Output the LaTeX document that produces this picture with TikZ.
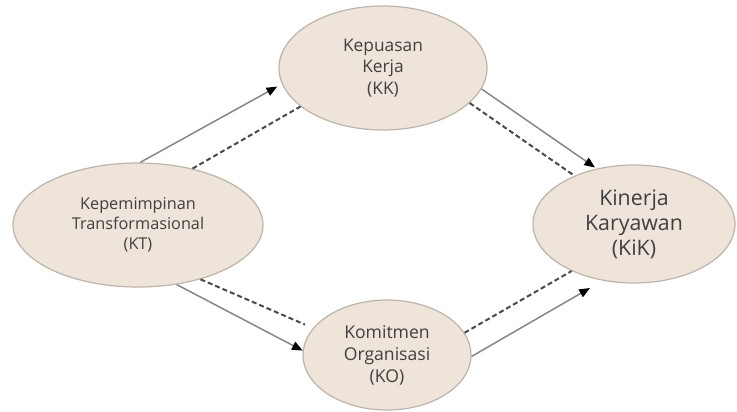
\documentclass[tikz,border=0pt]{standalone}
\usepackage{fontspec}
\setmainfont{Open Sans}
\usetikzlibrary{shapes.geometric,arrows.meta}
\definecolor{efill}{HTML}{EEE4DA}
\definecolor{edraw}{HTML}{BDB4AA}
\definecolor{txt}{HTML}{404040}
\definecolor{sline}{HTML}{858585}
\definecolor{dline}{HTML}{4A4A4A}
\begin{document}
\begin{tikzpicture}[x=0.75pt,y=-0.75pt,
  var/.style={ellipse,draw=edraw,fill=efill,line width=0.9pt,inner sep=0pt,align=center,text=txt},
  solidarr/.style={draw=sline,line width=1.1pt,-{Triangle[length=8pt,width=6.5pt,color=black]}},
  dashline/.style={draw=dline,line width=1.5pt,dash pattern=on 3.75pt off 2.25pt}]
\useasboundingbox[fill=white] (0,0) rectangle (737,411);
\node[var,minimum width=187.5pt,minimum height=93pt,font=\fontsize{12.2}{15}\selectfont] (kt) at (138,225) {Kepemimpinan\\Transformasional\\(KT)};
\node[var,minimum width=156pt,minimum height=93pt,font=\fontsize{13}{16.3}\selectfont] (kk) at (383,68) {Kepuasan\\Kerja\\(KK)};
\node[var,minimum width=151.5pt,minimum height=88.5pt,font=\fontsize{16}{18.75}\selectfont] (kik) at (634,224) {Kinerja\\Karyawan\\(KiK)};
\node[var,minimum width=126pt,minimum height=82.5pt,font=\fontsize{13.2}{16.5}\selectfont] (ko) at (387,355) {Komitmen\\Organisasi\\(KO)};
\draw[solidarr,shorten >=4pt] (kt.88) -- (kk.189);
\draw[dashline] (kt.46) -- (kk.205);
\draw[solidarr,shorten >=1.5pt] (kk.-12) -- (kik.124);
\draw[dashline] (kk.-22) -- (kik.141);
\draw[solidarr] (kt.-57) -- (ko.177);
\draw[dashline,shorten >=6.5pt] (kt.-41) -- (ko.160);
\draw[solidarr,shorten >=11pt] (ko.-1) -- (kik.241);
\draw[dashline] (ko.16) -- (kik.217);
\end{tikzpicture}
\end{document}
